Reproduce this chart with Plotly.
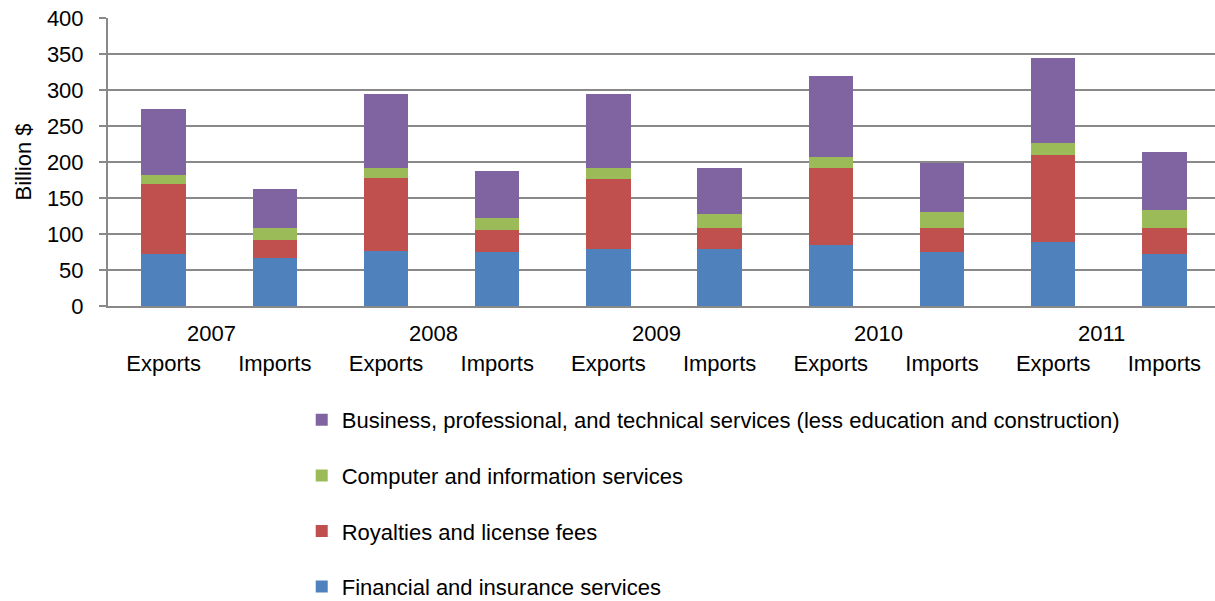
import plotly.graph_objects as go

years = ["2007", "2008", "2009", "2010", "2011"]
flows = ["Exports", "Imports"]

# one value per bar: 2007 Exports, 2007 Imports, 2008 Exports, ...
financial = [72, 66.5, 76, 75.5, 78.5, 78.5, 85, 75.5, 89.5, 72.5]
royalties = [97.5, 25.5, 102, 29.5, 98, 30, 107, 33, 120.5, 36]
computer = [12.5, 16, 13.5, 17.5, 14.5, 19, 14.5, 21.5, 16, 25]
business = [92, 55, 103, 65, 103.5, 63.5, 113.5, 69, 118, 80]

labels = [f for y in years for f in flows]
xpos = list(range(len(labels)))

series = [
    ("Financial and insurance services", financial, "#4F81BD"),
    ("Royalties and license fees", royalties, "#C0504D"),
    ("Computer and information services", computer, "#9BBB59"),
    ("Business, professional, and technical services (less education and construction)", business, "#8064A2"),
]

font = "Liberation Sans, Arial, sans-serif"
fsize = 22
grid = "#898989"

fig = go.Figure()
for i, (name, vals, col) in enumerate(series):
    fig.add_trace(go.Bar(x=xpos, y=vals, name=name, marker_color=col,
                         marker_line_width=0, width=0.4, legendgroup=name,
                         legendrank=10 - i))

# year labels centred under each pair
for i, y in enumerate(years):
    fig.add_annotation(x=2 * i + 0.43, y=-0.094, xref="x", yref="paper",
                       text=y, showarrow=False, yanchor="middle",
                       font=dict(family=font, size=fsize, color="black"))

fig.update_layout(
    barmode="stack",
    width=1215, height=601,
    margin=dict(l=108, r=0, t=18, b=295, autoexpand=False),
    plot_bgcolor="white", paper_bgcolor="white",
    font=dict(family=font, size=fsize, color="black"),
    showlegend=True,
    legend=dict(x=0.175, y=-0.323, xanchor="left", yanchor="top",
                traceorder="grouped", tracegroupgap=24,
                font=dict(family=font, size=fsize, color="black"),
                itemwidth=30, bgcolor="rgba(0,0,0,0)"),
)
fig.update_xaxes(range=[-0.5, 9.455], tickvals=xpos, ticktext=labels,
                 showline=True, linecolor=grid, linewidth=2,
                 showgrid=False, ticks="", ticklabelstandoff=37,
                 tickfont=dict(family=font, size=fsize, color="black"))
fig.update_yaxes(range=[0, 400], dtick=50, showgrid=True, gridcolor=grid,
                 gridwidth=2, showline=True, linecolor=grid, linewidth=2,
                 ticks="outside", ticklen=7, tickcolor=grid, tickwidth=2,
                 ticklabelstandoff=11, ticklabeloverflow="allow", zeroline=False,
                 title=dict(text="Billion $", standoff=9,
                            font=dict(family=font, size=fsize, color="black")),
                 tickfont=dict(family=font, size=fsize, color="black"))

# drop the browser's default 8px body margin so the figure fills the window
fig.write_html("out.html", config={"displayModeBar": False},
               post_script="document.body.style.margin='0';")
